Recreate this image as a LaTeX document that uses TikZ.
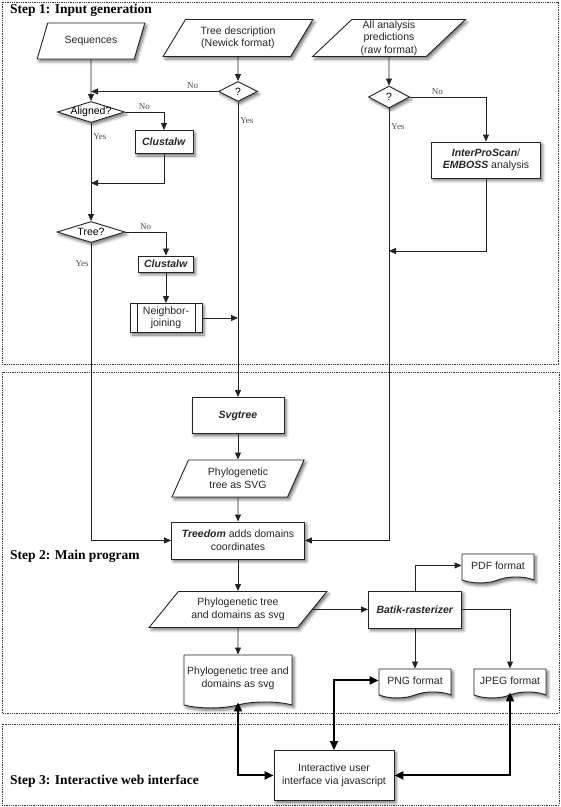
\documentclass[tikz,border=0pt]{standalone}
\usepackage{fontspec}
\setmainfont{Liberation Sans}
\newfontfamily\labelfont{Liberation Serif}
\usetikzlibrary{arrows.meta,shapes.geometric,shapes.symbols,positioning,shadows.blur}
\definecolor{linegray}{RGB}{35,35,35}

\begin{document}
\begin{tikzpicture}[
    x=1pt, y=-1pt, on grid,
    font=\fontsize{10.5}{12.5}\selectfont,
    dims/.style 2 args={minimum width=#1pt, minimum height=#2pt},
    base/.style={draw=linegray, line width=0.9pt, fill=white, text=black!85, align=center, inner sep=1pt,
        blur shadow={shadow xshift=2pt, shadow yshift=-2.5pt, shadow blur radius=3pt, shadow opacity=55}},
    process/.style={base, rectangle},
    subproc/.style={process, path picture={
        \draw[linegray, line width=0.9pt] ([xshift=7pt]path picture bounding box.north west) -- ([xshift=7pt]path picture bounding box.south west)
            ([xshift=-7pt]path picture bounding box.north east) -- ([xshift=-7pt]path picture bounding box.south east);}},
    data/.style 2 args={base, trapezium, trapezium left angle=#1, trapezium right angle=#2, trapezium stretches=true},
    decision/.style={base, diamond, inner sep=0pt},
    docshape/.style={base, tape, tape bend top=none, tape bend height=6pt},
    arr/.style={draw=linegray, line width=0.8pt, -{Triangle[length=7pt, width=6pt]}},
    twoway/.style={draw=black, line width=2pt, {Triangle[length=9pt, width=8pt]}-{Triangle[length=9pt, width=8pt]}},
    answer/.style={font=\labelfont\fontsize{9}{10}\selectfont, text=black!70, inner sep=2pt},
    stepframe/.style={draw=black!80, line width=0.8pt, densely dotted},
    steptitle/.style={anchor=west, inner sep=0pt, font=\labelfont\bfseries\fontsize{13.5}{16}\selectfont}
]
    \useasboundingbox (0,0) rectangle (561,807);

    % step frames
    \draw[stepframe] (2,2) rectangle (558,364);
    \draw[stepframe] (2,372) rectangle (559,713);
    \draw[stepframe] (2,724) rectangle (559,805);
    \node[steptitle] (title1) at (10,10) {Step 1: Input generation};
    \node[steptitle] (title2) at (10,556) {Step 2: Main program};
    \node[steptitle] (title3) at (10,781) {Step 3: Interactive web interface};

    % inputs
    \node[data={60}{120}, dims={108}{36}] (seq) at (91,41) {Sequences};
    \node[data={56}{124}, dims={150}{37}] (treedesc) at (238,38) {Tree description\\(Newick format)};
    \node[data={50}{130}, dims={153}{37}] (allpred) at (389,38) {All analysis\\predictions\\(raw format)};

    % step 1
    \node[decision, dims={39}{20}, label={center:?}, below=43pt of treedesc.center] (askTree) {};
    \node[decision, dims={67}{21}, label={center:Aligned?}, below=71pt of seq] (aligned) {};
    \node[process, dims={58}{23}, below right=30pt and 73pt of aligned] (clustalA) {\textbf{\textit{Clustalw}}};
    \coordinate[below=71pt of aligned] (joinA);
    \node[decision, dims={68}{21}, label={center:Tree?}, below=120pt of aligned] (hasTree) {};
    \node[process, dims={55}{16}, below right=32pt and 75pt of hasTree] (clustalB) {\textbf{\textit{Clustalw}}};
    \node[subproc, dims={72}{29}, below=54pt of clustalB] (nj) {Neighbor-\\joining};
    \node[decision, dims={41}{22}, label={center:?}, below=59pt of allpred] (askPred) {};
    \node[process, dims={109}{36}, below right=63pt and 97pt of askPred] (interpro) {\textbf{\textit{InterProScan}}/\\\textbf{\textit{EMBOSS}} analysis};
    \coordinate[below=154pt of askPred] (joinB);

    % step 2
    \node[process, dims={92}{36}, below=324pt of askTree] (svgtree) {\textbf{\textit{Svgtree}}};
    \node[data={65}{115}, dims={133}{37}, below=63pt of svgtree] (phylosvg) {Phylogenetic\\tree as SVG};
    \node[process, dims={133}{37}, below=62pt of phylosvg] (treedom) {\textbf{\textit{Treedom}} adds domains\\coordinates};
    \node[data={46}{134}, dims={178}{36}, below=69pt of treedom] (phylodom) {Phylogenetic tree\\and domains as svg};
    \node[process, dims={93}{37}, right=177pt of phylodom] (batik) {\textbf{\textit{Batik-rasterizer}}};
    \node[docshape, dims={72}{29}, above right=44pt and 83pt of batik] (pdf) {PDF format};
    \node[docshape, dims={72}{29}, below=71pt of batik] (png) {PNG format};
    \node[docshape, dims={72}{29}, right=95pt of png] (jpeg) {JPEG format};
    \node[docshape, dims={108}{53}, below=69pt of phylodom] (phylodoc) {Phylogenetic tree and\\domains as svg};

    % step 3
    \node[process, dims={120}{50}, below right=97pt and 96pt of phylodoc] (web) {Interactive user\\interface via javascript};

    % connectors
    \draw[arr] (seq) -- (aligned);
    \draw[arr] (treedesc) -- (askTree);
    \draw[arr] (askTree.west) -- node[answer, above, pos=.2] (noTree) {No} (askTree.west -| seq);
    \draw[arr] (askTree) -- node[answer, right, pos=.065] (yesTree) {Yes} (svgtree);
    \draw[arr] (aligned.east) -| node[answer, above, pos=.25] (noAligned) {No} (clustalA.north);
    \draw[arr] (clustalA.south) |- (joinA);
    \draw[arr] (aligned) -- node[answer, right, pos=.14] (yesAligned) {Yes} (hasTree);
    \draw[arr] (hasTree.east) -| node[answer, above, pos=.25] (noHas) {No} (clustalB.north);
    \draw[arr] (clustalB) -- (nj);
    \draw[arr] (nj.east) -- (nj.east -| askTree);
    \draw[arr] (hasTree.south) |- node[answer, left, pos=.035] (yesHas) {Yes} (treedom.west);
    \draw[arr] (allpred) -- (askPred);
    \draw[arr] (askPred.east) -| node[answer, above, pos=.18] (noPred) {No} (interpro.north);
    \draw[arr] (interpro.south) |- (joinB);
    \draw[arr] (askPred.south) |- node[answer, right, pos=.021] (yesPred) {Yes} (treedom.east);
    \draw[arr] (svgtree) -- (phylosvg);
    \draw[arr] (phylosvg) -- (treedom);
    \draw[arr] (treedom) -- (phylodom);
    \draw[arr] (phylodom) -- (phylodoc);
    \draw[arr] (phylodom) -- (batik);
    \draw[arr] (batik.north) |- (pdf.west);
    \draw[arr] (batik) -- (png);
    \draw[arr] (batik.east) -| (jpeg.north);
    \draw[twoway] (phylodoc.south) |- (web.west);
    \draw[twoway] (png.west) -| (web.north);
    \draw[twoway] (jpeg.south) |- (web.east);
\end{tikzpicture}
\end{document}
